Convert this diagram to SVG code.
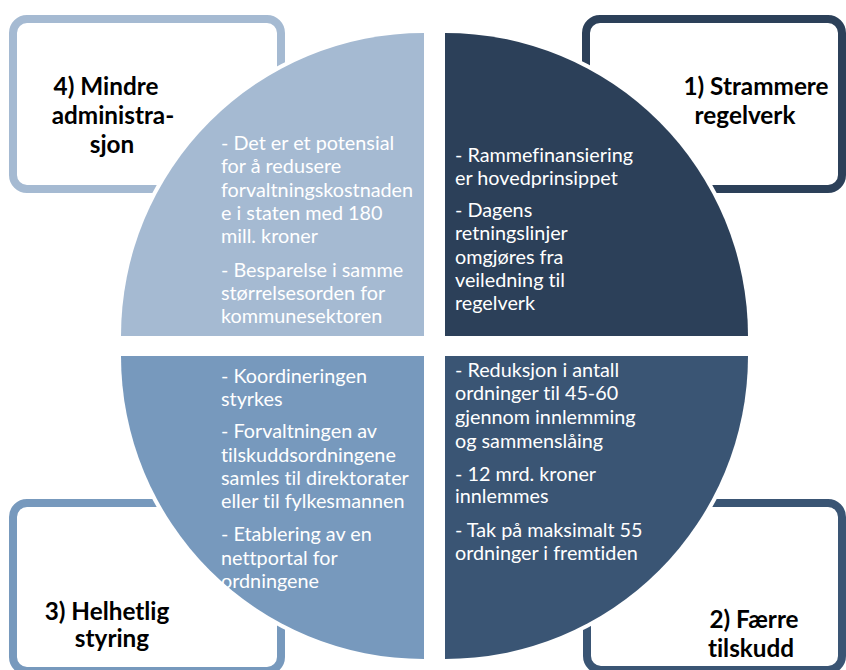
<svg xmlns="http://www.w3.org/2000/svg" width="846" height="670" viewBox="0 0 846 670">
<style>
.box{fill:#fff;stroke-width:8}
.q{stroke:#fff;stroke-width:8;paint-order:stroke}
.title{font-family:Lato,"Liberation Sans",sans-serif;font-weight:bold;font-size:24.3px;fill:#000;text-anchor:middle;font-variant-ligatures:none}
.body{font-family:Lato,"Liberation Sans",sans-serif;font-size:19.8px;fill:#fff;font-variant-ligatures:none}
</style>
<rect width="846" height="670" fill="#fff"/>
<g id="box4"><rect class="box" x="13" y="19" width="268" height="170" rx="14" stroke="#A5BAD2"/></g>
<g id="box1"><rect class="box" x="586" y="19" width="256" height="170" rx="14" stroke="#2C4059"/></g>
<g id="box3"><rect class="box" x="13" y="503" width="268" height="168" rx="14" stroke="#7799BD"/></g>
<g id="box2"><rect class="box" x="587" y="503" width="255" height="167" rx="14" stroke="#3A5574"/></g>
<g id="box4-label" class="title">
<text x="106" y="95">4) Mindre</text>
<text x="113" y="124">administra-</text>
<text x="112" y="153">sjon</text>
</g>
<g id="box1-label" class="title">
<text x="756" y="95">1) Strammere</text>
<text x="745" y="124">regelverk</text>
</g>
<g id="box3-label" class="title">
<text x="107" y="620">3) Helhetlig</text>
<text x="112" y="647">styring</text>
</g>
<g id="box2-label" class="title">
<text x="754" y="628">2) Færre</text>
<text x="751" y="657">tilskudd</text>
</g>
<g id="q-top-left">
<path class="q" d="M424,336 L424,33 A303,303 0 0 0 121,336 Z" fill="#A5BAD2"/>
<text class="body" x="221" y="150">- Det er et potensial</text>
<text class="body" x="221" y="173.3">for å redusere</text>
<text class="body" x="221" y="196.7">forvaltningskostnaden</text>
<text class="body" x="221" y="220">e i staten med 180</text>
<text class="body" x="221" y="243.3">mill. kroner</text>
<text class="body" x="221" y="277">- Besparelse i samme</text>
<text class="body" x="221" y="300">størrelsesorden for</text>
<text class="body" x="221" y="323">kommunesektoren</text>
</g>
<g id="q-top-right">
<path class="q" d="M445,336 L445,33 A303,303 0 0 1 748,336 Z" fill="#2C4059"/>
<text class="body" x="455" y="162.3">- Rammefinansiering</text>
<text class="body" x="455" y="185">er hovedprinsippet</text>
<text class="body" x="455" y="216.7">- Dagens</text>
<text class="body" x="455" y="240.3">retningslinjer</text>
<text class="body" x="455" y="263.5">omgjøres fra</text>
<text class="body" x="455" y="287">veiledning til</text>
<text class="body" x="455" y="310">regelverk</text>
</g>
<g id="q-bottom-left">
<path class="q" d="M424,356 L121,356 A303,303 0 0 0 424,659 Z" fill="#7799BD"/>
<text class="body" x="221" y="382.7">- Koordineringen</text>
<text class="body" x="221" y="406">styrkes</text>
<text class="body" x="221" y="437.7">- Forvaltningen av</text>
<text class="body" x="221" y="461.5">tilskuddsordningene</text>
<text class="body" x="221" y="485">samles til direktorater</text>
<text class="body" x="221" y="508.3">eller til fylkesmannen</text>
<text class="body" x="221" y="541">- Etablering av en</text>
<text class="body" x="221" y="564.7">nettportal for</text>
<text class="body" x="221" y="587.7">ordningene</text>
</g>
<g id="q-bottom-right">
<path class="q" d="M445,356 L748,356 A303,303 0 0 1 445,659 Z" fill="#3A5574"/>
<text class="body" x="455" y="376.7">- Reduksjon i antall</text>
<text class="body" x="455" y="400">ordninger til 45-60</text>
<text class="body" x="455" y="424">gjennom innlemming</text>
<text class="body" x="455" y="447.5">og sammenslåing</text>
<text class="body" x="455" y="480.7">- 12 mrd. kroner</text>
<text class="body" x="455" y="503.3">innlemmes</text>
<text class="body" x="455" y="536.7">- Tak på maksimalt 55</text>
<text class="body" x="455" y="560">ordninger i fremtiden</text>
</g>
<g id="connectors"></g>
</svg>
